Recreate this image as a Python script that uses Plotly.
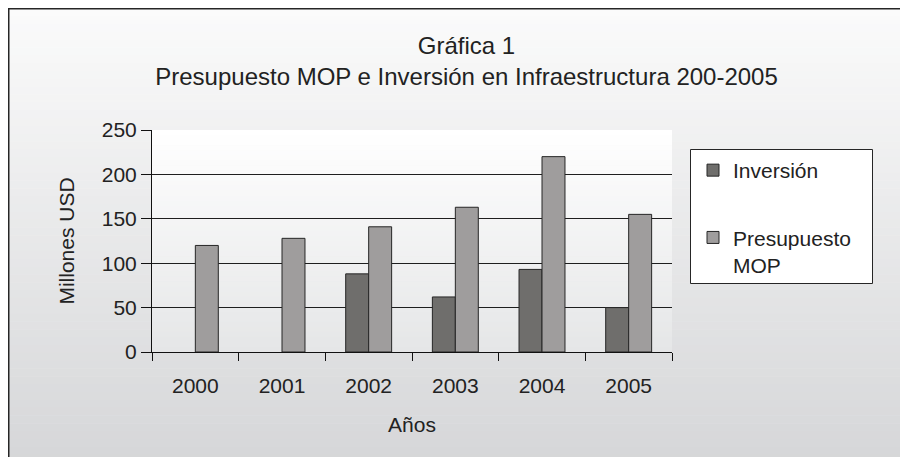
import plotly.graph_objects as go

# ---- data ----
years = ["2000", "2001", "2002", "2003", "2004", "2005"]
inversion = [None, None, 88, 62, 93, 50]
presupuesto = [120, 128, 141, 163, 220, 155]
y_ticks = [0, 50, 100, 150, 200, 250]

W, H = 908, 457
OFF = 8  # page body margin
# plot area, in window pixels minus the page margin
L, R, T, B = 152 - OFF, 672 - OFF, 130 - OFF, 352 - OFF

def px_x(px):
    return (px - L) / (R - L)

def px_y(py):
    return (B - py) / (B - T)

def lerp(c1, c2, t):
    return "rgb(%d,%d,%d)" % tuple(round(a + (b - a) * t) for a, b in zip(c1, c2))

FONT = "Arial, Liberation Sans, Helvetica, sans-serif"

fig = go.Figure()
fig.add_bar(name="Inversión", x=years, y=inversion, legendgroup="a",
            marker=dict(color="#6f6e6c", line=dict(color="#262626", width=1)))
fig.add_bar(name="Presupuesto<br>MOP", x=years, y=presupuesto, legendgroup="b",
            marker=dict(color="#9f9d9d", line=dict(color="#262626", width=1)))

shapes = []
# outer frame gradient
N = 60
y0p, y1p = 0, 470
for i in range(N):
    a = y0p + (y1p - y0p) * i / N
    b = y0p + (y1p - y0p) * (i + 1) / N + 0.5
    shapes.append(dict(type="rect", xref="paper", yref="paper", layer="below",
                       x0=px_x(0), x1=px_x(930), y0=px_y(a), y1=px_y(b),
                       fillcolor=lerp((251, 251, 251), (212, 213, 215), (i + 0.5) / N),
                       line=dict(width=0)))
# plot area gradient
N2 = 44
for i in range(N2):
    a = T + (B - T) * i / N2
    b = T + (B - T) * (i + 1) / N2 + 0.5
    shapes.append(dict(type="rect", xref="paper", yref="paper", layer="below",
                       x0=0, x1=1, y0=px_y(a), y1=px_y(min(b, B)),
                       fillcolor=lerp((255, 255, 255), (229, 230, 231), (i + 0.5) / N2),
                       line=dict(width=0)))
# frame border (top and left visible)
shapes.append(dict(type="line", xref="paper", yref="paper", layer="above",
                   x0=px_x(0), x1=px_x(930), y0=px_y(0.5), y1=px_y(0.5),
                   line=dict(color="#262626", width=2)))
shapes.append(dict(type="line", xref="paper", yref="paper", layer="above",
                   x0=px_x(0.5), x1=px_x(0.5), y0=px_y(0), y1=px_y(470),
                   line=dict(color="#262626", width=2)))
# legend box
shapes.append(dict(type="rect", xref="paper", yref="paper", layer="above",
                   x0=px_x(690.5 - OFF), x1=px_x(872.5 - OFF),
                   y0=px_y(149.5 - OFF), y1=px_y(283.5 - OFF),
                   fillcolor="white", line=dict(color="#262626", width=1)))

fig.update_layout(
    width=W, height=H,
    margin=dict(l=L, r=W - R, t=T, b=H - B, pad=0),
    paper_bgcolor="white", plot_bgcolor="rgba(0,0,0,0)",
    font=dict(family=FONT, size=21, color="#222"),
    title=dict(text="Gráfica 1<br>Presupuesto MOP e Inversión en Infraestructura 200-2005",
               font=dict(size=24, color="#222"), x=0.505, xanchor="center",
               yref="container", y=1 - 46 / H, yanchor="top"),
    barmode="group", bargap=0.47, bargroupgap=0,
    shapes=shapes,
    showlegend=True,
    legend=dict(x=px_x(693 - OFF), y=px_y(150 - OFF), xanchor="left", yanchor="top",
                bgcolor="rgba(0,0,0,0)", borderwidth=0,
                font=dict(size=21, color="#222"), traceorder="grouped",
                tracegroupgap=37, valign="top", itemclick=False),
    xaxis=dict(type="category", showline=True, linecolor="#111", linewidth=1,
               ticks="outside", tickson="boundaries", ticklen=8, tickcolor="#111",
               showgrid=False, ticklabelstandoff=15,
               title=dict(text="Años", standoff=21, font=dict(size=21))),
    yaxis=dict(range=[0, 250], tickvals=y_ticks, showgrid=True, gridcolor="#1e1e1e",
               gridwidth=1, showline=True, linecolor="#111", linewidth=1,
               ticks="outside", ticklen=10, tickcolor="#111", zeroline=False,
               title=dict(text="Millones USD", standoff=21, font=dict(size=21))),
)

fig.write_html("out.html")
